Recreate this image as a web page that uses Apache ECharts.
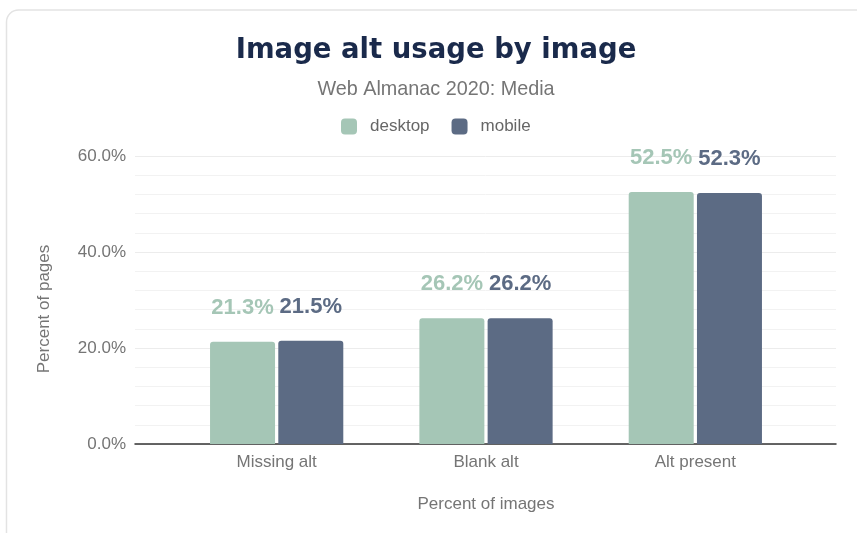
<!DOCTYPE html>
<html>
<head>
<meta charset="utf-8">
<script src="https://cdn.jsdelivr.net/npm/echarts@6/dist/echarts.min.js"></script>
<style>
  html, body { margin: 0; padding: 0; background: #fff; }
  #chart { width: 857px; height: 533px; }
</style>
</head>
<body>
<div id="chart"></div>
<script>
// Share of images by alt attribute state
const categories = ['Missing alt', 'Blank alt', 'Alt present'];
const desktopValues = [21.3, 26.2, 52.5];
const mobileValues = [21.5, 26.2, 52.3];
const yTicks = [0, 20, 40, 60];

const DESKTOP = '#a5c6b6';
const MOBILE = '#5c6b84';
const FONT = '"Liberation Sans", Arial, Helvetica, sans-serif';
const TITLE_FONT = '"DejaVu Sans", "Liberation Sans", Arial, sans-serif';
const HEAD_CENTER = 431;

const chart = echarts.init(document.getElementById('chart'), null, { renderer: 'canvas' });

const labelFor = (color) => ({
  show: true,
  position: 'top',
  distance: 23,
  color: color,
  fontFamily: FONT,
  fontWeight: 'bold',
  fontSize: 22,
  formatter: (p) => p.value.toFixed(1) + '%'
});

chart.setOption({
  backgroundColor: '#fff',
  animation: false,
  graphic: [{
    type: 'rect',
    shape: { x: 6.5, y: 10, width: 900, height: 600, r: 12 },
    style: { fill: 'none', stroke: '#e3e3e3', lineWidth: 1.5 },
    silent: true,
    z: -10
  }],
  title: [{
    text: 'Image alt usage by image',
    left: HEAD_CENTER,
    textAlign: 'center',
    top: 32,
    textStyle: { fontFamily: TITLE_FONT, fontWeight: 'bold', fontSize: 27.5, color: '#1a2a4b' }
  }, {
    text: 'Web Almanac 2020: Media',
    left: HEAD_CENTER,
    textAlign: 'center',
    top: 75,
    textStyle: { fontFamily: FONT, fontWeight: 'normal', fontSize: 19.8, color: '#757575' }
  }],
  legend: {
    top: 113,
    left: 336,
    itemWidth: 16,
    itemHeight: 16,
    itemGap: 22,
    icon: 'roundRect',
    textStyle: { fontFamily: FONT, fontSize: 17, color: '#666', padding: [0, 0, 0, 8] },
    data: ['desktop', 'mobile']
  },
  grid: [
    // full-width frame carrying the gridlines and value labels
    { left: 135, right: 21, top: 156, bottom: 89 },
    // inner band that holds the bar groups
    { left: 172, right: 57, top: 156, bottom: 89 }
  ],
  xAxis: [{
    gridIndex: 0,
    type: 'category',
    data: [''],
    axisLine: { show: true, lineStyle: { color: '#333', width: 1.5 } },
    axisTick: { show: false },
    axisLabel: { show: false }
  }, {
    gridIndex: 1,
    type: 'category',
    data: categories,
    name: 'Percent of images',
    nameLocation: 'middle',
    nameGap: 52,
    nameTextStyle: { fontFamily: FONT, fontSize: 17, color: '#757575' },
    axisLine: { show: false },
    axisTick: { show: false },
    axisLabel: { fontFamily: FONT, fontSize: 17, color: '#757575', margin: 10 }
  }],
  yAxis: [{
    gridIndex: 0,
    type: 'value',
    min: 0,
    max: 60,
    interval: 20,
    name: 'Percent of pages',
    nameLocation: 'middle',
    nameGap: 82,
    nameTextStyle: { fontFamily: FONT, fontSize: 17, color: '#757575', padding: [0, 18, 0, 0] },
    axisLine: { show: false },
    axisTick: { show: false },
    axisLabel: {
      fontFamily: FONT, fontSize: 17, color: '#757575', margin: 9,
      formatter: (v) => yTicks.includes(v) ? v.toFixed(1) + '%' : ''
    },
    splitLine: { show: true, lineStyle: { color: '#ececec', width: 1 } },
    minorTick: { show: false, splitNumber: 5 },
    minorSplitLine: { show: true, lineStyle: { color: '#f2f2f2', width: 1 } }
  }, {
    gridIndex: 1,
    type: 'value',
    min: 0,
    max: 60,
    interval: 20,
    show: false,
    splitLine: { show: false }
  }],
  series: [{
    name: 'desktop',
    type: 'bar',
    xAxisIndex: 1,
    yAxisIndex: 1,
    data: desktopValues,
    barWidth: 65,
    barGap: '5%',
    itemStyle: { color: DESKTOP, borderRadius: [3, 3, 0, 0] },
    label: labelFor(DESKTOP)
  }, {
    name: 'mobile',
    type: 'bar',
    xAxisIndex: 1,
    yAxisIndex: 1,
    data: mobileValues,
    barWidth: 65,
    barGap: '5%',
    itemStyle: { color: MOBILE, borderRadius: [3, 3, 0, 0] },
    label: labelFor(MOBILE)
  }]
});
</script>
</body>
</html>
